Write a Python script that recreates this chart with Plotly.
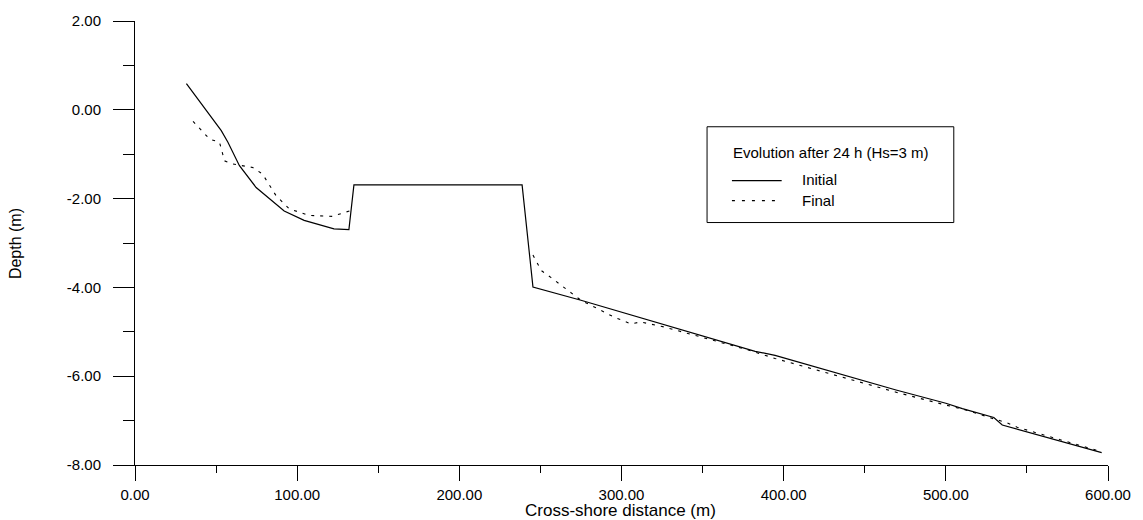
import plotly.graph_objects as go

# ---- data ----
initial_x = [31.7, 41.9, 53.2, 57.3, 64.4, 74.7, 92.0, 104.3, 114.5, 122.7, 131.9, 135.0,
             238.7, 245.4, 275.0, 346.6, 382.4, 394.7, 469.3, 500.0, 510.2, 529.6, 534.8, 596.1]
initial_y = [0.59, 0.09, -0.47, -0.73, -1.26, -1.75, -2.28, -2.49, -2.59, -2.68, -2.70, -1.69,
             -1.69, -3.99, -4.29, -5.06, -5.44, -5.53, -6.31, -6.61, -6.73, -6.93, -7.10, -7.72]

final_x = [35.8, 46.0, 52.1, 55.2, 60.3, 72.6, 78.7, 86.9, 95.1, 107.4, 121.7, 132.9, None,
           245.4, 250.5, 256.6, 266.9, 275.0, 283.2, 295.5, 305.7, 311.9, 326.2, 377.3, 394.7,
           469.3, 500.0, 512.3, 529.6, 537.8, 544.0, 596.0]
final_y = [-0.26, -0.66, -0.73, -1.15, -1.22, -1.30, -1.45, -1.93, -2.23, -2.38, -2.40, -2.27, None,
           -3.27, -3.62, -3.78, -4.07, -4.29, -4.44, -4.67, -4.82, -4.78, -4.89, -5.40, -5.60,
           -6.36, -6.65, -6.76, -6.96, -7.05, -7.15, -7.70]

x_tickvals = [0, 100, 200, 300, 400, 500, 600]
x_ticktext = ["0.00", "100.00", "200.00", "300.00", "400.00", "500.00", "600.00"]
x_minor = [50, 150, 250, 350, 450, 550]
y_tickvals = [2, 0, -2, -4, -6, -8]
y_ticktext = ["2.00", "0.00", "-2.00", "-4.00", "-6.00", "-8.00"]
y_minor = [1, -1, -3, -5, -7]

legend_title = "Evolution after 24 h (Hs=3 m)"
series_names = ["Initial", "Final"]
x_title = "Cross-shore distance (m)"
y_title = "Depth (m)"

FONT = "Liberation Sans, Arial, sans-serif"
W, H = 1143, 520
ML, MR, MT, MB = 135, 30, 20, 55
PW, PH = W - ML - MR, H - MT - MB


def px(xp):
    return (xp - ML) / PW


def py(yp):
    return (H - MB - yp) / PH


fig = go.Figure()
fig.add_trace(go.Scatter(x=initial_x, y=initial_y, mode="lines", name=series_names[0],
                         line=dict(color="black", width=1.2), showlegend=False))
fig.add_trace(go.Scatter(x=final_x, y=final_y, mode="lines", name=series_names[1],
                         line=dict(color="black", width=1.1, dash="3px,6px"),
                         connectgaps=False, showlegend=False))

# manual legend box
shapes = [
    dict(type="rect", xref="paper", yref="paper", x0=px(710), x1=px(958), y0=py(222), y1=py(126),
         line=dict(color="black", width=1), fillcolor="white", layer="below"),
    dict(type="line", xref="paper", yref="paper", x0=px(735), x1=px(785), y0=py(180), y1=py(180),
         line=dict(color="black", width=1.2)),
    dict(type="line", xref="paper", yref="paper", x0=px(735), x1=px(785), y0=py(200), y1=py(200),
         line=dict(color="black", width=1.1, dash="3px,7px")),
]
annotations = [
    dict(text=legend_title, xref="paper", yref="paper", x=px(734), y=py(152), xanchor="left",
         yanchor="middle", showarrow=False, font=dict(family=FONT, size=15, color="black")),
    dict(text=series_names[0], xref="paper", yref="paper", x=px(803), y=py(179), xanchor="left",
         yanchor="middle", showarrow=False, font=dict(family=FONT, size=15, color="black")),
    dict(text=series_names[1], xref="paper", yref="paper", x=px(803), y=py(200), xanchor="left",
         yanchor="middle", showarrow=False, font=dict(family=FONT, size=15, color="black")),
    dict(text=y_title, xref="paper", yref="paper", x=px(15), y=py(243), xanchor="center",
         yanchor="middle", textangle=-90, showarrow=False,
         font=dict(family=FONT, size=16, color="black")),
    dict(text=x_title, xref="paper", yref="paper", x=px(623), y=py(511), xanchor="center",
         yanchor="middle", showarrow=False, borderpad=0,
         font=dict(family=FONT, size=17, color="black")),
]

fig.update_layout(
    width=W, height=H,
    margin=dict(l=ML, r=MR, t=MT, b=MB, pad=0),
    paper_bgcolor="white", plot_bgcolor="white",
    font=dict(family=FONT, color="black"),
    shapes=shapes, annotations=annotations,
    showlegend=False,
    xaxis=dict(range=[0, 600], showgrid=False, zeroline=False, showline=True,
               linecolor="black", linewidth=1, ticks="outside", ticklen=15, tickwidth=1,
               tickcolor="black", tickvals=x_tickvals, ticktext=x_ticktext,
               tickfont=dict(family=FONT, size=15, color="black"),
               ticklabelstandoff=1,
               minor=dict(tickvals=x_minor, ticks="outside", ticklen=7, tickwidth=1,
                          tickcolor="black", showgrid=False)),
    yaxis=dict(range=[-8, 2], showgrid=False, zeroline=False, showline=True,
               linecolor="black", linewidth=1, ticks="outside", ticklen=21, tickwidth=1,
               tickcolor="black", tickvals=y_tickvals, ticktext=y_ticktext,
               tickfont=dict(family=FONT, size=15, color="black"),
               ticklabelstandoff=9,
               minor=dict(tickvals=y_minor, ticks="outside", ticklen=11, tickwidth=1,
                          tickcolor="black", showgrid=False)),
)

fig.write_html("out.html", config={"displayModeBar": False},
               post_script="document.body.style.margin='0';document.body.style.overflow='hidden';")
